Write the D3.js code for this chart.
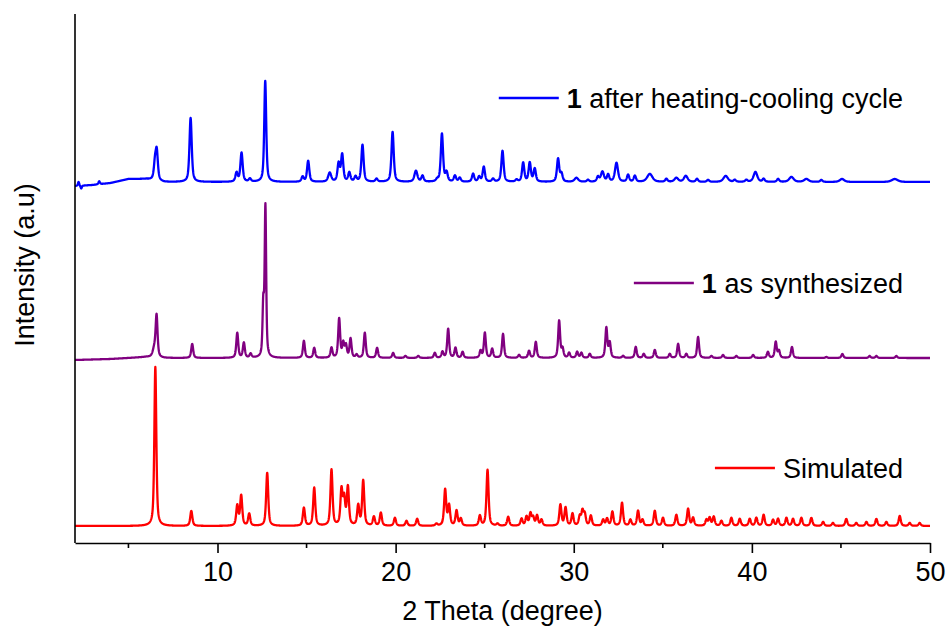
<!DOCTYPE html>
<html>
<head>
<meta charset="UTF-8">
<style>
  body { margin: 0; background: #fff; }
  text { font-family: Arial, "Liberation Sans", sans-serif; fill: #000; }
</style>
</head>
<body>
<svg></svg>
<script src="https://d3js.org/d3.v7.min.js"></script>
<script>

// peaks: [2theta, height above baseline, fwhm (optional)]
let simPeaks = [
  [6.51,159,0.13],[8.53,15],[11.11,20],[11.33,30],[11.78,12],[12.79,53],
  [14.85,18],[15.43,38],[16.40,56],[16.96,35],[17.11,26],[17.32,38],[17.90,20],[18.18,45],
  [18.78,9],[19.17,13],[19.96,8],[20.61,5],[21.21,7],[22.29,2],[22.78,36],[23.0,20],
  [23.42,15],[23.66,7],[24.73,10],[25.16,56],[25.72,2],[26.32,9],[27.07,7],[27.35,9],
  [27.57,12],[27.72,8],[27.94,10],[28.19,6],[29.25,21],[29.54,18],[29.93,12],[30.34,9],
  [30.49,14],[30.62,11],[30.96,10],[31.65,6],[31.87,7],[32.17,14],[32.71,23],[33.18,6],
  [33.61,15],[33.86,6],[34.55,15],[35.01,8],[35.76,11],[36.42,17],[36.7,8],[37.45,6],
  [37.63,8],[37.86,9],[38.29,5],[38.85,8],[39.32,7],[39.88,7],[40.25,8],[40.66,11],
  [41.19,6],[41.47,7],[41.94,8],[42.31,7],[42.78,8],[43.34,8],[44.0,4],[44.55,3],
  [45.3,7],[45.86,3],[46.43,4],[46.99,7],[47.55,4],[48.30,10],[48.86,3],[49.42,3]
];

let synPeaks = [
  [6.45,8,0.2],[6.58,41],[8.58,14],[11.11,25],[11.48,15],[11.86,4],[12.57,50,0.1],[12.69,150,0.1],
  [14.85,17],[15.43,10],[16.40,10],[16.83,39],[17.06,14],[17.21,12],[17.47,19],[17.81,3],
  [18.27,25],[18.96,10],[19.86,5],[20.55,2],[21.27,2],[22.2,5],[22.63,6],[22.95,29],
  [23.36,10],[23.76,6],[24.77,7],[25.01,25],[25.42,9],[26.03,24],[26.93,3],[27.49,7],
  [27.87,16],[29.18,37],[29.37,9],[29.74,5],[30.19,6],[30.43,5],[30.9,4],[31.83,30],
  [32.02,15],[32.77,2],[33.48,11],[33.93,4],[34.55,8],[35.39,4],[35.86,14],[36.32,4],
  [36.98,21],[37.73,2],[38.38,3],[39.13,2],[40.07,3],[40.9,6],[41.34,16],[41.52,7],
  [42.25,11],[44.18,1],[45.08,4],[46.61,2],[46.99,2],[48.11,2]
];

let heatPeaks = [
  [2.2,4,0.08],[2.35,-3,0.08],[3.36,3,0.1],[6.49,16,0.15],[6.59,28],[8.49,64],[11.07,9],[11.35,29],
  [11.82,3],[12.68,101,0.13],[14.78,5],[15.09,21],[16.3,9,0.2],[16.8,18],[17.0,27],
  [17.4,9],[17.75,5],[18.14,37],[18.93,3],[19.83,50],[21.14,11,0.2],[21.51,6],[22.33,2],
  [22.6,48],[22.86,9],[23.33,6],[23.6,4],[24.35,8],[24.69,5],[24.95,15],[25.47,3],
  [26.0,31],[26.79,2],[27.16,19],[27.53,19],[27.81,13],[29.12,23],[29.31,8],[30.15,4,0.25],
  [30.8,2],[31.36,5],[31.61,10,0.2],[31.93,7],[32.4,19,0.2],[33.05,7],[33.43,6],
  [34.27,8,0.35],[35.2,3],[35.76,4,0.25],[36.29,6,0.25],[36.92,3],[37.54,2],[38.53,6,0.3],
  [39.04,2],[39.69,2],[40.2,10,0.25],[40.66,3],[41.47,3],[42.22,5,0.3],[43.06,3,0.3],
  [43.9,2],[45.06,3,0.3],[48.02,3,0.4]
];

// slow background humps: [2theta, offset]
let heatBackground = [[2,-4],[3,-3],[4,-1],[5,3],[6,3],[7,0],[50,0]];
let synBackground = [[2,-2],[4,-1],[6,1],[7,0],[50,0]];
let simBackground = [[2,0],[50,0]];

// vertical offsets of the stacked patterns
let offsets = { sim: 17, syn: 185, heat: 361 };

let labels = ["after heating-cooling cycle", "as synthesized", "Simulated"];
let xTicks = [10, 20, 30, 40, 50];
let xMinor = [5, 15, 25, 35, 45];

let width = 948, height = 634;
let margin = { left: 75, right: 18, top: 14, bottom: 91 };
let fontSize = "27px";

let svg = d3.select("svg")
    .attr("width", width)
    .attr("height", height);

let x = d3.scaleLinear().domain([2, 50]).range([margin.left, width - margin.right]);
let y = d3.scaleLinear().domain([0, 529]).range([height - margin.bottom, margin.top]);

function pattern(peaks, bg, off, w0) {
  let base = d3.scaleLinear().domain(bg.map(d => d[0])).range(bg.map(d => d[1]));
  return d3.range(2, 50.001, 0.01).map(t => {
    let v = off + base(t);
    peaks.forEach(p => {
      let w = p[2] || w0;
      let q = (t - p[0]) / w;
      v += p[1] * (0.6 / (1 + 4 * q * q) + 0.4 * Math.exp(-2.7726 * q * q));
    });
    return [t, v];
  });
}

let line = d3.line().x(d => x(d[0])).y(d => y(d[1]));

let series = [
  { data: pattern(heatPeaks, heatBackground, offsets.heat, 0.15), color: "#0000ff" },
  { data: pattern(synPeaks, synBackground, offsets.syn, 0.13), color: "#800080" },
  { data: pattern(simPeaks, simBackground, offsets.sim, 0.14), color: "#ff0000" }
];

svg.append("g").selectAll("path")
  .data(series)
  .enter()
  .append("path")
    .attr("d", d => line(d.data))
    .attr("fill", "none")
    .attr("stroke", d => d.color)
    .attr("stroke-width", 2.3)
    .attr("stroke-linejoin", "round");

// axes
let xAxis = svg.append("g")
    .attr("transform", "translate(0," + y(0) + ")")
    .call(d3.axisBottom(x).tickValues(xTicks).tickSize(10).tickPadding(9).tickSizeOuter(0));
xAxis.select(".domain").attr("stroke-width", 1.6);
xAxis.selectAll(".tick line").attr("stroke-width", 1.6);
xAxis.selectAll("text").style("font-size", fontSize).attr("font-family", null);

svg.append("g")
    .attr("transform", "translate(0," + y(0) + ")")
    .selectAll("line")
    .data(xMinor)
    .enter()
    .append("line")
      .attr("x1", d => x(d)).attr("x2", d => x(d))
      .attr("y1", 0).attr("y2", 5)
      .attr("stroke", "#000").attr("stroke-width", 1.6);

svg.append("line")
    .attr("x1", x(2)).attr("x2", x(2))
    .attr("y1", y(529)).attr("y2", y(0))
    .attr("stroke", "#000").attr("stroke-width", 1.6);

svg.append("text")
    .attr("x", (x(2) + x(50)) / 2)
    .attr("y", 620)
    .attr("text-anchor", "middle")
    .style("font-size", fontSize)
    .text("2 Theta (degree)");

svg.append("text")
    .attr("transform", "translate(34," + 265 + ") rotate(-90)")
    .attr("text-anchor", "middle")
    .style("font-size", fontSize)
    .text("Intensity (a.u)");

// legend entries, right aligned
let legendY = [98, 283, 468];
series.forEach((s, i) => {
  let t = svg.append("text")
      .attr("x", 903)
      .attr("y", legendY[i] + 10)
      .attr("text-anchor", "end")
      .style("font-size", fontSize);
  if (i < 2) {
    t.append("tspan").attr("font-weight", "bold").text("1");
    t.append("tspan").text(" " + labels[i]);
  } else {
    t.text(labels[i]);
  }
  let bx = t.node().getBBox().x;
  svg.append("line")
      .attr("x1", bx - 68).attr("x2", bx - 8)
      .attr("y1", legendY[i]).attr("y2", legendY[i])
      .attr("stroke", s.color).attr("stroke-width", 2.3);
});

</script>
</body>
</html>
